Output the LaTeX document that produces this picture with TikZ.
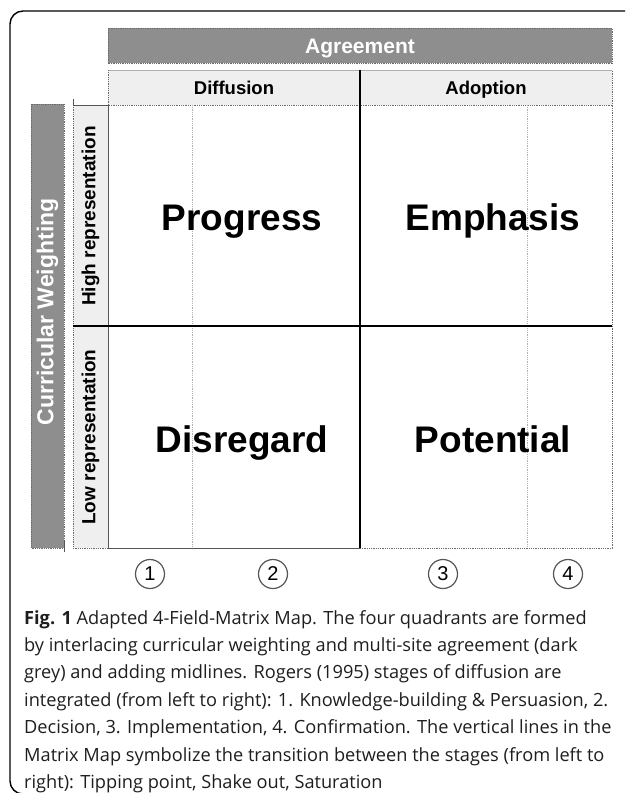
\documentclass[tikz,border=0pt]{standalone}
\usepackage{fontspec}
\setmainfont{Liberation Sans}
\newfontfamily\capfont{Open Sans}
\definecolor{bargray}{HTML}{8E8E8E}
\definecolor{lightfill}{HTML}{EFEFEF}
\definecolor{dotgray}{HTML}{6A6A6A}
\definecolor{stagegray}{HTML}{B0B0B0}
\definecolor{edgegray}{HTML}{555555}
\definecolor{captext}{HTML}{1E1E1E}
\tikzset{
  dotline/.style={draw=dotgray, line width=0.9pt, dash pattern=on 0.9pt off 0.9pt},
  stageline/.style={draw=stagegray, line width=0.9pt, dash pattern=on 0.9pt off 0.9pt},
  mainline/.style={draw=black, line width=1.3pt},
  darkbar/.style={fill=bargray},
  lightbar/.style={fill=lightfill},
  headtext/.style={font=\bfseries\fontsize{18.5}{18.5}\selectfont, anchor=base, inner sep=0pt},
  bartext/.style={font=\bfseries\fontsize{21}{21}\selectfont, text=white, anchor=base, inner sep=0pt},
  sidetext/.style={font=\bfseries\fontsize{19}{19}\selectfont, rotate=90, inner sep=0pt},
  quadtext/.style={font=\bfseries\fontsize{37}{37}\selectfont, anchor=base, inner sep=0pt},
  stagecircle/.style={circle, draw=edgegray, line width=1.2pt, minimum size=29pt, inner sep=0pt, font=\fontsize{20}{20}\selectfont},
  capline/.style={font=\capfont\fontsize{18.2}{18.2}\selectfont, text=captext, anchor=base west, inner sep=0pt},
}
\begin{document}
\begin{tikzpicture}[x=1pt,y=-1pt]
\useasboundingbox (0,0) rectangle (625,793);
\clip (0,0) rectangle (625,793);
% outer frame
\draw[line width=1.4pt, rounded corners=13pt] (10,11) rectangle (680,794);

% Agreement bar
\fill[darkbar] (108,28) rectangle (612,63);
\path[dotline] (108,28) rectangle (612,63);
\node[bartext] (agree) at (360,53) {Agreement};

% header row
\fill[lightbar] (108,70) rectangle (612,105);
\draw[draw=stagegray, line width=0.9pt] (108,70) -- (612,70);
\path[dotline] (108,70) -- (108,105) -- (612,105) -- (612,70);
\node[headtext] (diff) at (234,94.5) {Diffusion};
\node[headtext] (adop) at (486,94.5) {Adoption};

% side strip
\fill[lightbar] (73,105) rectangle (108,548);
\path[dotline] (73,105) -- (73,548) -- (108,548);
\draw[draw=edgegray, line width=0.8pt] (73,99) -- (73,105) -- (108,105);
\node[sidetext] (high) at (90.5,216) {High representation};
\node[sidetext] (low) at (90.5,437) {Low representation};

% curricular bar
\fill[darkbar] (31,104) rectangle (64,548);
\path[dotline] (31,104) rectangle (64,548);
\draw[draw=edgegray, line width=0.9pt] (64.5,540) -- (64.5,552);
\node[sidetext, text=white, font=\bfseries\fontsize{23}{23}\selectfont] (curr) at (47.5,312) {Curricular Weighting};

% stage lines
\path[stageline] (192,105) -- (192,548);
\path[stageline] (527,105) -- (527,548);

% matrix borders
\draw[draw=edgegray, line width=1pt] (108,105) -- (108,548) -- (360,548);
\path[dotline] (360,548) -- (612,548) -- (612,105);

% main lines
\draw[mainline] (360,70) -- (360,548);
\draw[mainline] (73,326) -- (612,326);

% quadrant labels
\node[quadtext] (prog) at (242,230) {Progress};
\node[quadtext] (emph) at (493,230) {Emphasis};
\node[quadtext] (disr) at (242,452) {Disregard};
\node[quadtext] (pote) at (493,452) {Potential};

% stage numbers
\node[stagecircle] (s1) at (150,574) {1};
\node[stagecircle] (s2) at (273,574) {2};
\node[stagecircle] (s3) at (443,574) {3};
\node[stagecircle] (s4) at (568,574) {4};

% caption
\node[capline] (c1) at (24,624) {\textbf{Fig. 1} Adapted 4-Field-Matrix Map. The four quadrants are formed};
\node[capline] (c2) at (24,651.4) {by interlacing curricular weighting and multi-site agreement (dark};
\node[capline] (c3) at (24,678.8) {grey) and adding midlines. Rogers (1995) stages of diffusion are};
\node[capline] (c4) at (24,706.2) {integrated (from left to right): 1. Knowledge-building \& Persuasion, 2.};
\node[capline] (c5) at (24,733.6) {Decision, 3. Implementation, 4. Confirmation. The vertical lines in the};
\node[capline] (c6) at (24,761) {Matrix Map symbolize the transition between the stages (from left to};
\node[capline] (c7) at (24,788.4) {right): Tipping point, Shake out, Saturation};
\end{tikzpicture}
\end{document}
